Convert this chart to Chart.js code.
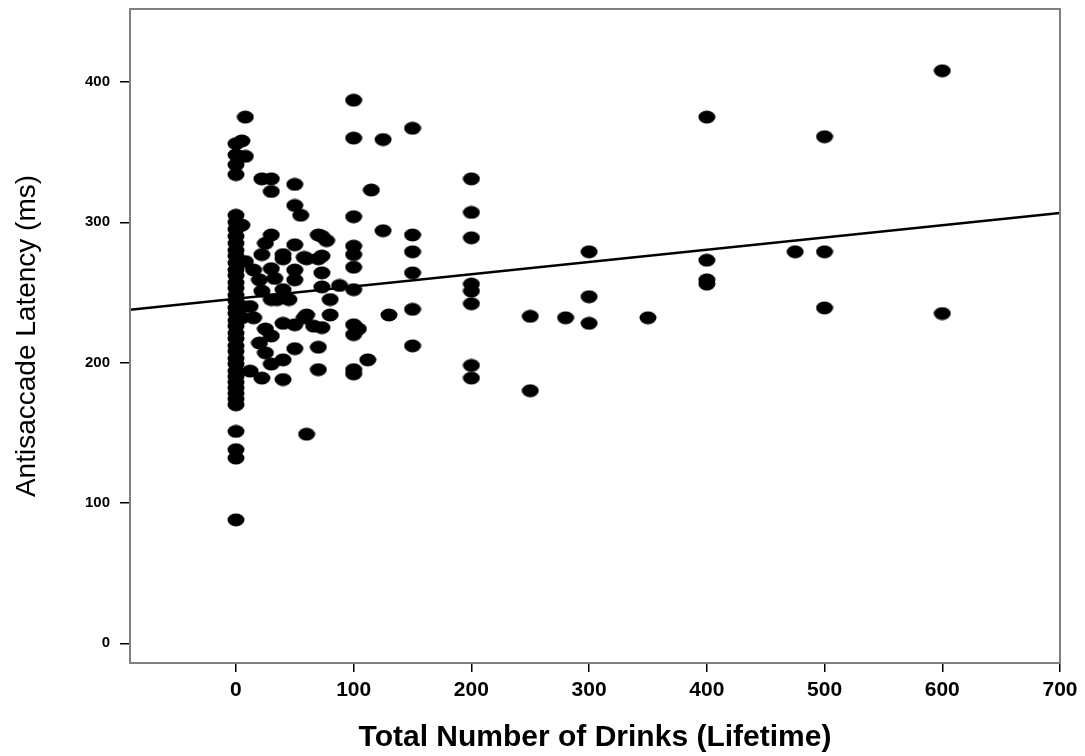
<!DOCTYPE html>
<html>
<head>
<meta charset="utf-8">
<script src="https://cdn.jsdelivr.net/npm/chart.js@4"></script>
<style>
  body { margin: 0; background: #fff; }
  #wrap { width: 1085px; height: 756px; }
</style>
</head>
<body>
<div id="wrap"><canvas id="myChart" width="1085" height="756"></canvas></div>
<script>
// lifetime drinks (x) and antisaccade latency in ms (y)
var drinks = [
  0, 0, 0, 0, 0, 0, 0, 0, 0, 0, 0, 0, 0,
  0, 0, 0, 0, 0, 0, 0, 0, 0, 0, 0, 0, 0,
  0, 0, 0, 0, 0, 0, 0, 0, 0, 0, 0, 0, 0,
  5, 5, 5, 5, 8, 8, 8, 12, 12, 15, 15,
  20, 20, 22, 22, 22, 22, 25, 25, 25,
  30, 30, 30, 30, 30, 30, 30, 33, 35,
  40, 40, 40, 40, 40, 40, 45,
  50, 50, 50, 50, 50, 50, 50, 55, 58, 58,
  60, 60, 60, 66, 70, 70, 70, 70,
  73, 73, 73, 73, 73, 77, 80, 80, 88,
  100, 100, 100, 100, 100, 100, 100, 100, 100, 100, 100,
  104, 112, 115, 125, 125, 130,
  150, 150, 150, 150, 150, 150,
  200, 200, 200, 200, 200, 200, 200, 200,
  250, 250, 280, 300, 300, 300, 350,
  400, 400, 400, 400, 475, 500, 500, 500, 600, 600
];
var latency = [
  356, 348, 341, 334, 305, 300, 295, 290, 285, 280, 276, 271, 266,
  262, 257, 253, 248, 244, 239, 235, 230, 226, 221, 217, 212, 208,
  203, 199, 194, 190, 186, 182, 178, 174, 170, 151, 138, 132, 88,
  358, 298, 240, 232, 375, 347, 272, 240, 194, 266, 232,
  259, 214, 331, 277, 251, 189, 224, 207, 285,
  331, 322, 291, 267, 245, 219, 199, 260, 245,
  277, 252, 202, 188, 274, 228, 245,
  327, 312, 284, 266, 259, 227, 210, 305, 275, 232,
  274, 234, 149, 226, 291, 274, 211, 195,
  290, 276, 264, 254, 225, 287, 245, 234, 255,
  387, 360, 304, 283, 277, 268, 252, 227, 220, 195, 192,
  224, 202, 323, 359, 294, 234,
  367, 291, 279, 264, 238, 212,
  331, 307, 289, 256, 251, 242, 198, 189,
  233, 180, 232, 279, 247, 228, 232,
  375, 273, 259, 256, 279, 361, 279, 239, 408, 235
];

// fitted regression line
var trendIntercept = 245.5;
var trendSlope = 0.0874;

var xTicks = [0, 100, 200, 300, 400, 500, 600, 700];
var yTicks = [0, 100, 200, 300, 400];
var xMin = -90, xMax = 700;
var yMin = -14, yMax = 452;

document.addEventListener("DOMContentLoaded", function() {
  // elliptical marker like the original plot
  var dot = document.createElement("canvas");
  dot.width = 18;
  dot.height = 14;
  var dctx = dot.getContext("2d");
  dctx.fillStyle = "#000";
  dctx.beginPath();
  dctx.ellipse(9, 7, 8.5, 6.5, 0, 0, Math.PI * 2);
  dctx.fill();

  var points = drinks.map(function(d, i) {
    return { x: d, y: latency[i] };
  });
  var trend = [xMin, xMax].map(function(x) {
    return { x: x, y: trendIntercept + trendSlope * x };
  });

  var frame = {
    id: "frame",
    afterDraw: function(chart) {
      var a = chart.chartArea, c = chart.ctx;
      c.save();
      c.strokeStyle = "#808080";
      c.lineWidth = 2;
      c.strokeRect(a.left, a.top, a.right - a.left, a.bottom - a.top);
      c.restore();
    }
  };

  var ctx = document.getElementById("myChart");
  new Chart(ctx, {
    type: "scatter",
    data: {
      datasets: [
        {
          label: "Subjects",
          data: points,
          pointStyle: dot,
          pointRadius: 8,
          backgroundColor: "#000"
        },
        {
          type: "line",
          label: "Fit",
          data: trend,
          borderColor: "#000",
          borderWidth: 2.5,
          pointRadius: 0,
          fill: false
        }
      ]
    },
    options: {
      responsive: false,
      animation: false,
      layout: { padding: { top: 6, right: 25, left: 0, bottom: 0 } },
      plugins: {
        legend: { display: false },
        tooltip: { enabled: false }
      },
      scales: {
        x: {
          type: "linear",
          min: xMin,
          max: xMax,
          afterBuildTicks: function(s) {
            s.ticks = xTicks.map(function(v) { return { value: v }; });
          },
          afterFit: function(s) {
            s.height = 93;
            s.paddingLeft = 0;
            s.paddingRight = 0;
          },
          grid: { drawOnChartArea: false, drawTicks: true, tickLength: 9, color: "#000", lineWidth: 1.5 },
          border: { display: false },
          ticks: {
            color: "#000",
            padding: 6,
            maxRotation: 0,
            font: { family: "'Liberation Sans', Arial, sans-serif", size: 21, weight: "bold" }
          },
          title: {
            display: true,
            text: "Total Number of Drinks (Lifetime)",
            color: "#000",
            padding: { top: 0, bottom: 0 },
            font: { family: "'Liberation Sans', Arial, sans-serif", size: 30, weight: "bold" }
          }
        },
        y: {
          type: "linear",
          min: yMin,
          max: yMax,
          afterBuildTicks: function(s) {
            s.ticks = yTicks.map(function(v) { return { value: v }; });
          },
          afterFit: function(s) {
            s.width = 130;
            s.paddingTop = 0;
            s.paddingBottom = 0;
          },
          grid: { drawOnChartArea: false, drawTicks: true, tickLength: 10, color: "#000", lineWidth: 1.5 },
          border: { display: false },
          ticks: {
            color: "#000",
            padding: 10,
            font: { family: "'Liberation Sans', Arial, sans-serif", size: 15, weight: "bold" }
          },
          title: {
            display: true,
            text: "Antisaccade Latency (ms)",
            color: "#000",
            padding: { top: 10, bottom: 0 },
            font: { family: "'Liberation Sans', Arial, sans-serif", size: 28 }
          }
        }
      }
    },
    plugins: [frame]
  });
});
</script>
</body>
</html>
